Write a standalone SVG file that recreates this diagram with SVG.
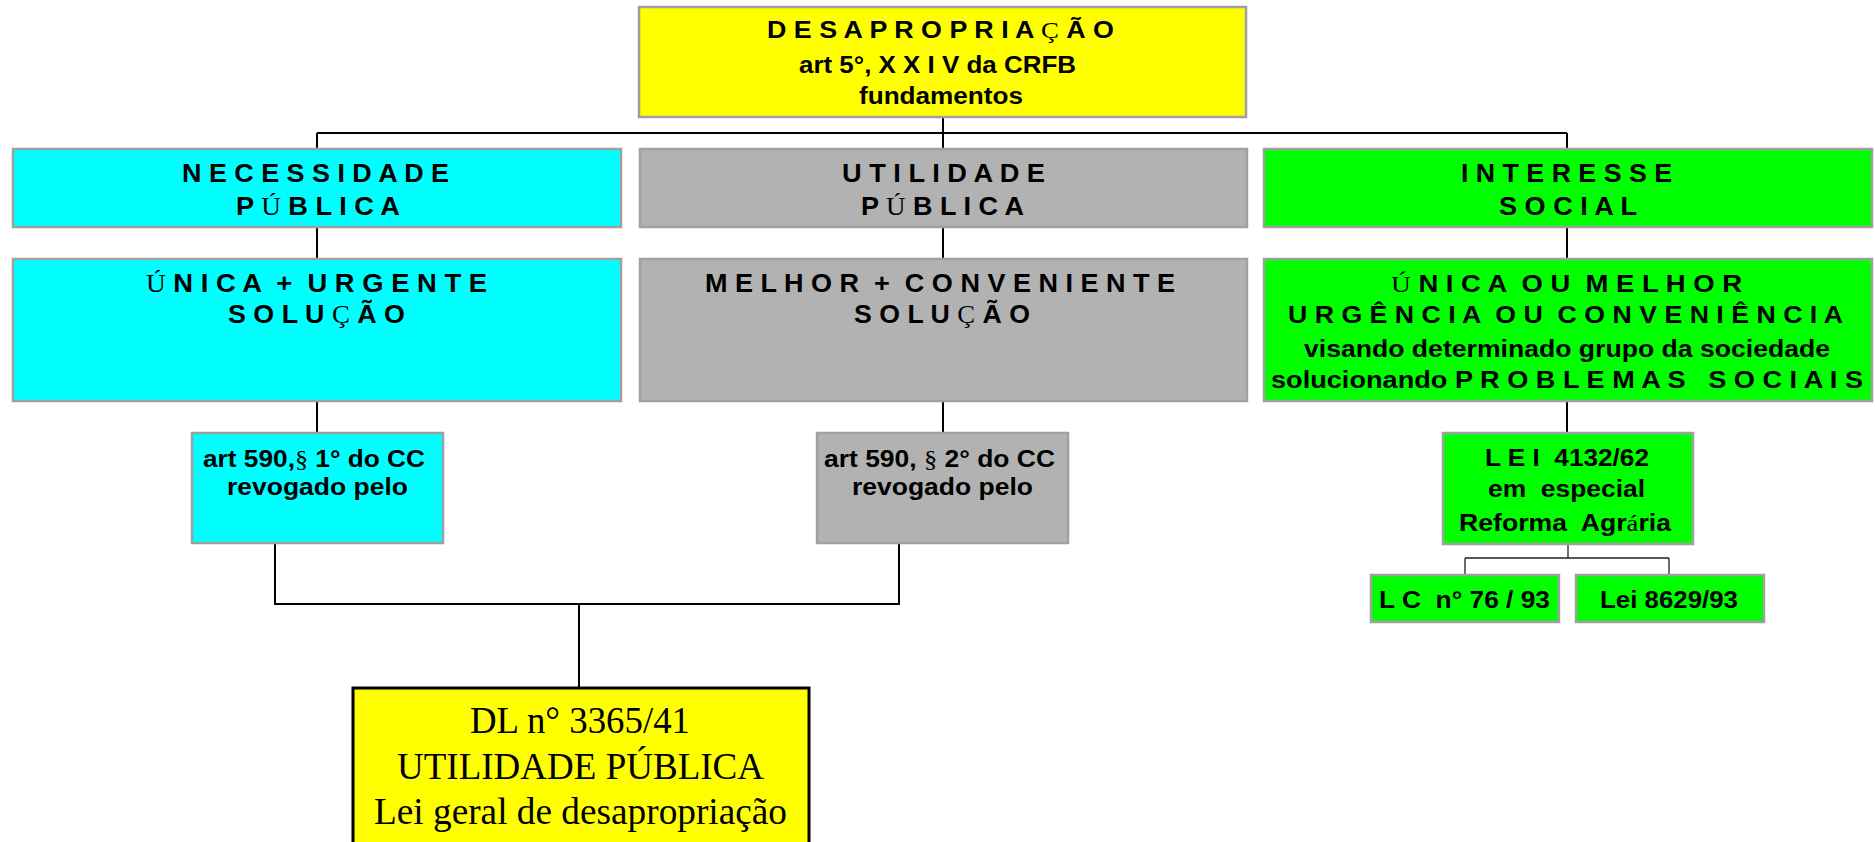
<svg xmlns="http://www.w3.org/2000/svg" width="1875" height="842" viewBox="0 0 1875 842">
<style>
.box{stroke:#a0a0a0;stroke-width:2.5}
.y{fill:#ffff00}.c{fill:#00ffff}.g{fill:#b2b2b2}.n{fill:#00ff00}
.t{font-family:"Liberation Sans",Arial,sans-serif;font-weight:bold;fill:#000;white-space:pre}
.s{font-family:"Liberation Serif","Times New Roman",serif;font-weight:normal}
.dl{font-family:"Liberation Serif","Times New Roman",serif;font-size:37px;fill:#000;white-space:pre}
.conn{stroke:#000;stroke-width:2;fill:none}
.thin{stroke:#222;stroke-width:1.3;fill:none}
</style>
<rect width="1875" height="842" fill="#fff"/>
<g id="connectors">
<path class="conn" d="M943 117V133M317 133H1567M317 133V149M943 133V149M1567 133V149"/>
<path class="conn" d="M317 227V259M943 227V259M1567 227V259"/>
<path class="conn" d="M317 401V433M943 401V433M1567 401V433"/>
<path class="conn" d="M275 543V604H899V543M579 604V687"/>
<path class="thin" d="M1568 544V558M1465 558H1669M1465 558V575M1669 558V575"/>
</g>
<g id="desapropriacao">
<rect class="box y" x="639" y="7" width="607" height="110"/>
<text class="t" font-size="24" x="767" y="38" textLength="347" lengthAdjust="spacingAndGlyphs">D E S A P R O P R I A <tspan class="s">Ç</tspan> Ã O</text>
<text class="t" font-size="24" x="799" y="73" textLength="277" lengthAdjust="spacingAndGlyphs">art 5°, X X I V da CRFB</text>
<text class="t" font-size="24" x="859" y="104" textLength="164" lengthAdjust="spacingAndGlyphs">fundamentos</text>
</g>
<g id="necessidade">
<rect class="box c" x="13" y="149" width="608" height="78"/>
<text class="t" font-size="25" x="182" y="182" textLength="267" lengthAdjust="spacingAndGlyphs">N E C E S S I D A D E</text>
<text class="t" font-size="25" x="236" y="215" textLength="164" lengthAdjust="spacingAndGlyphs">P <tspan class="s">Ú</tspan> B L I C A</text>
</g>
<g id="utilidade">
<rect class="box g" x="640" y="149" width="607" height="78"/>
<text class="t" font-size="25" x="842" y="182" textLength="203" lengthAdjust="spacingAndGlyphs">U T I L I D A D E</text>
<text class="t" font-size="25" x="861" y="215" textLength="163" lengthAdjust="spacingAndGlyphs">P <tspan class="s">Ú</tspan> B L I C A</text>
</g>
<g id="interesse">
<rect class="box n" x="1264" y="149" width="608" height="78"/>
<text class="t" font-size="25" x="1461" y="182" textLength="211" lengthAdjust="spacingAndGlyphs">I N T E R E S S E</text>
<text class="t" font-size="25" x="1499" y="215" textLength="138" lengthAdjust="spacingAndGlyphs">S O C I A L</text>
</g>
<g id="unica-urgente">
<rect class="box c" x="13" y="259" width="608" height="142"/>
<text class="t" font-size="25" x="146" y="292" textLength="341" lengthAdjust="spacingAndGlyphs"><tspan class="s">Ú</tspan> N I C A  +  U R G E N T E</text>
<text class="t" font-size="25" x="228" y="323" textLength="177" lengthAdjust="spacingAndGlyphs">S O L U <tspan class="s">Ç</tspan> Ã O</text>
</g>
<g id="melhor-conveniente">
<rect class="box g" x="640" y="259" width="607" height="142"/>
<text class="t" font-size="25" x="705" y="292" textLength="470" lengthAdjust="spacingAndGlyphs">M E L H O R  +  C O N V E N I E N T E</text>
<text class="t" font-size="25" x="854" y="323" textLength="176" lengthAdjust="spacingAndGlyphs">S O L U <tspan class="s">Ç</tspan> Ã O</text>
</g>
<g id="unica-ou-melhor">
<rect class="box n" x="1264" y="259" width="608" height="142"/>
<text class="t" font-size="23" x="1391" y="292" textLength="351" lengthAdjust="spacingAndGlyphs"><tspan class="s">Ú</tspan> N I C A  O U  M E L H O R</text>
<text class="t" font-size="23" x="1288" y="323" textLength="555" lengthAdjust="spacingAndGlyphs">U R G Ê N C I A  O U  C O N V E N I Ê N C I A</text>
<text class="t" font-size="23" x="1304" y="357" textLength="526" lengthAdjust="spacingAndGlyphs">visando determinado grupo da sociedade</text>
<text class="t" font-size="23" x="1271" y="388" textLength="592" lengthAdjust="spacingAndGlyphs">solucionando P R O B L E M A S   S O C I A I S</text>
</g>
<g id="art590-1">
<rect class="box c" x="192" y="433" width="251" height="110"/>
<text class="t" font-size="23" x="203" y="467" textLength="222" lengthAdjust="spacingAndGlyphs">art 590,<tspan class="s">§</tspan> 1° do CC</text>
<text class="t" font-size="23" x="227" y="495" textLength="181" lengthAdjust="spacingAndGlyphs">revogado pelo</text>
</g>
<g id="art590-2">
<rect class="box g" x="817" y="433" width="251" height="110"/>
<text class="t" font-size="23" x="824" y="467" textLength="231" lengthAdjust="spacingAndGlyphs">art 590, <tspan class="s">§</tspan> 2° do CC</text>
<text class="t" font-size="23" x="852" y="495" textLength="181" lengthAdjust="spacingAndGlyphs">revogado pelo</text>
</g>
<g id="lei4132">
<rect class="box n" x="1443" y="433" width="250" height="111"/>
<text class="t" font-size="23" x="1485" y="466" textLength="164" lengthAdjust="spacingAndGlyphs">L E I  4132/62</text>
<text class="t" font-size="23" x="1488" y="497" textLength="157" lengthAdjust="spacingAndGlyphs">em  especial</text>
<text class="t" font-size="23" x="1459" y="531" textLength="212" lengthAdjust="spacingAndGlyphs">Reforma  Agr<tspan class="s">á</tspan>ria</text>
</g>
<g id="lc76">
<rect class="box n" x="1371" y="575" width="188" height="47"/>
<text class="t" font-size="23" x="1379" y="608" textLength="171" lengthAdjust="spacingAndGlyphs">L C  n° 76 / 93</text>
</g>
<g id="lei8629">
<rect class="box n" x="1576" y="575" width="188" height="47"/>
<text class="t" font-size="23" x="1600" y="608" textLength="138" lengthAdjust="spacingAndGlyphs">Lei 8629/93</text>
</g>
<g id="dl3365">
<rect x="353" y="688" width="456" height="170" fill="#ffff00" stroke="#000" stroke-width="3"/>
<text class="dl" x="470" y="733" textLength="220" lengthAdjust="spacingAndGlyphs">DL n° 3365/41</text>
<text class="dl" x="397" y="779" textLength="367" lengthAdjust="spacingAndGlyphs">UTILIDADE PÚBLICA</text>
<text class="dl" x="374" y="824" textLength="413" lengthAdjust="spacingAndGlyphs">Lei geral de desapropriação</text>
</g>
</svg>
